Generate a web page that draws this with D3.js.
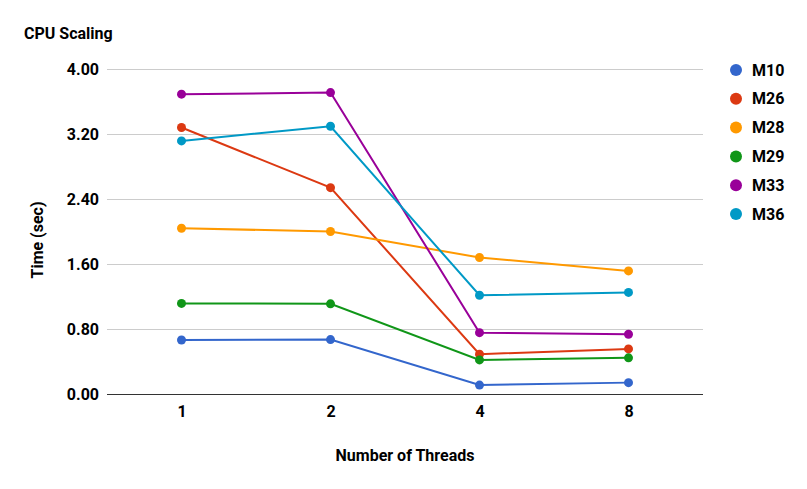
<!DOCTYPE html>
<html>
<head>
<meta charset="utf-8">
<script src="https://cdn.jsdelivr.net/npm/d3@7"></script>
<style>
  body { margin: 0; background: #fff; }
  svg text { font-family: Roboto, "Noto Sans", sans-serif; font-weight: bold; fill: #000; }
</style>
</head>
<body>
<svg id="chart"></svg>
<script>
// Data
const threads = ["1", "2", "4", "8"];
const seriesNames = ["M10", "M26", "M28", "M29", "M33", "M36"];
const m10 = [0.665, 0.67, 0.11, 0.14];
const m26 = [3.28, 2.54, 0.49, 0.555];
const m28 = [2.04, 2.00, 1.68, 1.515];
const m29 = [1.115, 1.11, 0.42, 0.445];
const m33 = [3.69, 3.71, 0.755, 0.735];
const m36 = [3.115, 3.295, 1.215, 1.25];
const yTicks = [0, 0.8, 1.6, 2.4, 3.2, 4.0];
const colors = ["#3366cc", "#dc3912", "#ff9900", "#109618", "#990099", "#0099c6"];

const seriesValues = [m10, m26, m28, m29, m33, m36];
const series = seriesNames.map((name, i) => ({ name, values: seriesValues[i], color: colors[i] }));

// SVG setup
const width = 807;
const height = 489;
const svg = d3.select("#chart").attr("width", width).attr("height", height);

const margin = { top: 69, right: 104, bottom: 95, left: 107 };
const innerW = width - margin.left - margin.right;
const innerH = height - margin.top - margin.bottom;

const g = svg.append("g").attr("transform", `translate(${margin.left},${margin.top})`);

// Scales
const x = d3.scalePoint().domain(threads).range([0, innerW]).padding(0.5);
const y = d3.scaleLinear().domain([0, 4]).range([innerH, 0]);

// Gridlines + y labels
const yAxis = g.append("g")
  .call(d3.axisLeft(y).tickValues(yTicks).tickSize(-innerW).tickPadding(8).tickFormat(d3.format(".2f")));
yAxis.select(".domain").remove();
yAxis.selectAll(".tick line").attr("stroke", "#cccccc");
yAxis.selectAll(".tick text").style("font-size", "16px");
yAxis.selectAll(".tick").filter(d => d === 0).select("line").attr("stroke", "#333333");

// x labels
const xAxis = g.append("g")
  .attr("transform", `translate(0,${innerH})`)
  .call(d3.axisBottom(x).tickSize(0).tickPadding(12));
xAxis.select(".domain").remove();
xAxis.selectAll(".tick text").style("font-size", "16px");

// Lines
const line = d3.line()
  .x((d, i) => x(threads[i]))
  .y(d => y(d));

g.append("g").selectAll("path")
  .data(series)
  .join("path")
  .attr("fill", "none")
  .attr("stroke", d => d.color)
  .attr("stroke-width", 2)
  .attr("d", d => line(d.values));

// Points
g.append("g").selectAll("g")
  .data(series)
  .join("g")
  .attr("fill", d => d.color)
  .selectAll("circle")
  .data(d => d.values)
  .join("circle")
  .attr("cx", (d, i) => x(threads[i]))
  .attr("cy", d => y(d))
  .attr("r", 4.5);

// Title
svg.append("text")
  .attr("x", 24)
  .attr("y", 39)
  .style("font-size", "16px")
  .text("CPU Scaling");

// Axis titles
svg.append("text")
  .attr("x", margin.left + innerW / 2)
  .attr("y", 461)
  .attr("text-anchor", "middle")
  .style("font-size", "16px")
  .text("Number of Threads");

svg.append("text")
  .attr("transform", "translate(43,240) rotate(-90)")
  .attr("text-anchor", "middle")
  .style("font-size", "16px")
  .text("Time (sec)");

// Legend
const legend = svg.append("g").attr("transform", "translate(736,70)");
const items = legend.selectAll("g")
  .data(series)
  .join("g")
  .attr("transform", (d, i) => `translate(0,${i * 28.8})`);
items.append("circle").attr("r", 6).attr("fill", d => d.color);
items.append("text")
  .attr("x", 16)
  .attr("dy", "0.35em")
  .style("font-size", "16px")
  .text(d => d.name);
</script>
</body>
</html>
